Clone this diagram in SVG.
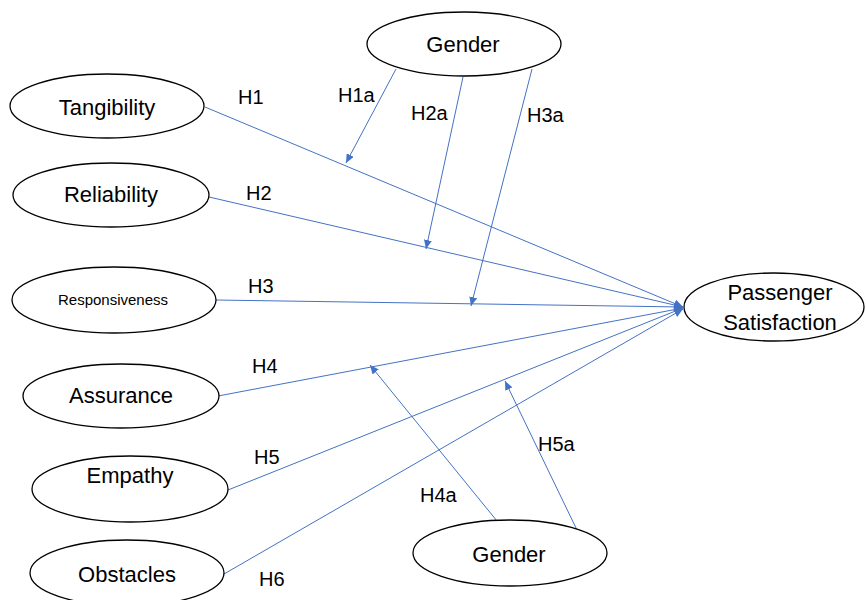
<svg xmlns="http://www.w3.org/2000/svg" width="866" height="600" viewBox="0 0 866 600">
<style>
.node ellipse{fill:#fff;stroke:#000;stroke-width:1.3}
.node text{font-family:"Liberation Sans",Arial,sans-serif;font-size:22px;fill:#000;text-anchor:middle}
.conn line{stroke:#4472C4;stroke-width:1}
.lbl{font-family:"Liberation Sans",Arial,sans-serif;font-size:20px;fill:#000}
</style>
<defs>
<marker id="arr" markerUnits="userSpaceOnUse" markerWidth="10" markerHeight="8" refX="9" refY="4" orient="auto">
<path d="M0,0 L9,4 L0,8 z" fill="#4472C4"/>
</marker>
</defs>
<rect width="866" height="600" fill="#fff"/>
<g class="conn">
<line x1="205" y1="107" x2="683" y2="307" marker-end="url(#arr)"/>
<line x1="209" y1="197" x2="683" y2="307" marker-end="url(#arr)"/>
<line x1="216" y1="300" x2="683" y2="307" marker-end="url(#arr)"/>
<line x1="218" y1="396" x2="683" y2="308" marker-end="url(#arr)"/>
<line x1="228" y1="490" x2="683" y2="308" marker-end="url(#arr)"/>
<line x1="224" y1="574" x2="683" y2="309" marker-end="url(#arr)"/>
<line x1="396" y1="69" x2="346" y2="163" marker-end="url(#arr)"/>
<line x1="463" y1="77" x2="426" y2="249" marker-end="url(#arr)"/>
<line x1="532" y1="69" x2="471" y2="306" marker-end="url(#arr)"/>
<line x1="497" y1="521" x2="370" y2="365" marker-end="url(#arr)"/>
<line x1="577" y1="530" x2="505" y2="381" marker-end="url(#arr)"/>
</g>
<g id="tangibility" class="node"><ellipse cx="107" cy="106" rx="97" ry="32"/><text x="107" y="115">Tangibility</text></g>
<g id="reliability" class="node"><ellipse cx="111" cy="195" rx="98" ry="32"/><text x="111" y="202">Reliability</text></g>
<g id="responsiveness" class="node"><ellipse cx="114" cy="300" rx="102" ry="33"/><text x="113" y="305" style="font-size:15px">Responsiveness</text></g>
<g id="assurance" class="node"><ellipse cx="121" cy="396" rx="98" ry="32"/><text x="121" y="403">Assurance</text></g>
<g id="empathy" class="node"><ellipse cx="130" cy="489" rx="98" ry="33"/><text x="130" y="483">Empathy</text></g>
<g id="obstacles" class="node"><ellipse cx="127" cy="573" rx="97" ry="33"/><text x="127" y="582">Obstacles</text></g>
<g id="gender-top" class="node"><ellipse cx="464" cy="44" rx="97" ry="32"/><text x="463" y="52">Gender</text></g>
<g id="passenger-satisfaction" class="node"><ellipse cx="774" cy="307" rx="90" ry="34"/><text x="780" y="300">Passenger</text><text x="780" y="330">Satisfaction</text></g>
<g id="gender-bottom" class="node"><ellipse cx="510" cy="553" rx="97" ry="33"/><text x="509" y="562">Gender</text></g>
<g id="labels">
<text class="lbl" x="238" y="104">H1</text>
<text class="lbl" x="246" y="200">H2</text>
<text class="lbl" x="248" y="293">H3</text>
<text class="lbl" x="252" y="373">H4</text>
<text class="lbl" x="254" y="464">H5</text>
<text class="lbl" x="259" y="586">H6</text>
<text class="lbl" x="338" y="102">H1a</text>
<text class="lbl" x="411" y="120">H2a</text>
<text class="lbl" x="527" y="122">H3a</text>
<text class="lbl" x="420" y="502">H4a</text>
<text class="lbl" x="538" y="451">H5a</text>
</g>
</svg>
